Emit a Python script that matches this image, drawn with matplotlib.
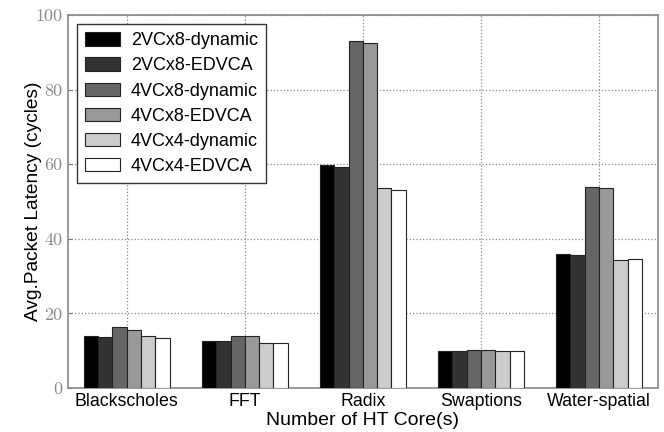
import matplotlib

matplotlib.use("Agg")
import matplotlib.pyplot as plt
import numpy as np

plt.rcParams["font.family"] = ["Liberation Sans", "DejaVu Sans"]

benchmarks = ["Blackscholes", "FFT", "Radix", "Swaptions", "Water-spatial"]
series_names = ["2VCx8-dynamic", "2VCx8-EDVCA", "4VCx8-dynamic",
                "4VCx8-EDVCA", "4VCx4-dynamic", "4VCx4-EDVCA"]
dyn_2x8 = [14.0, 12.5, 59.7, 10.0, 35.9]
edvca_2x8 = [13.7, 12.5, 59.3, 10.0, 35.7]
dyn_4x8 = [16.3, 13.8, 93.0, 10.2, 54.0]
edvca_4x8 = [15.5, 13.8, 92.5, 10.2, 53.5]
dyn_4x4 = [13.8, 12.1, 53.5, 9.9, 34.4]
edvca_4x4 = [13.5, 12.0, 53.2, 9.9, 34.5]
yticks = [0, 20, 40, 60, 80, 100]

series = [dyn_2x8, edvca_2x8, dyn_4x8, edvca_4x8, dyn_4x4, edvca_4x4]
colors = ["#000000", "#333333", "#666666", "#999999", "#cccccc", "#ffffff"]

fig = plt.figure(figsize=(6.64, 4.32), dpi=100)
ax = fig.add_axes([0.102, 0.102, 0.889, 0.863])

x = np.arange(len(benchmarks))
w = 0.121
for i, (vals, name, c) in enumerate(zip(series, series_names, colors)):
    ax.bar(x + (i - 2.5) * w, vals, w, color=c, edgecolor="#222222",
           linewidth=0.8, label=name, zorder=3)

ax.set_xlim(-0.5, 4.5)
ax.set_ylim(0, 100)
ax.set_xticks(x)
ax.set_xticklabels(benchmarks, fontsize=12.8)
ax.set_yticks(yticks)
ax.set_yticklabels([str(v) for v in yticks], family="cmr10", fontsize=13,
                   color="#8a8a8a")
ax.tick_params(axis="x", direction="in", length=3, pad=4, color="#777777")
ax.tick_params(axis="y", direction="in", length=3, pad=4, color="#777777")
ax.grid(True, ls=":", color="#888888", lw=0.9, zorder=0)
ax.set_xlabel("Number of HT Core(s)", fontsize=14, labelpad=1)
ax.set_ylabel("Avg.Packet Latency (cycles)", fontsize=13.8, labelpad=-5)
for s in ax.spines.values():
    s.set_color("#888888")
    s.set_linewidth(1.2)

leg = ax.legend(loc="upper left", fontsize=13, fancybox=False,
                handlelength=1.95, handleheight=0.75, labelspacing=0.45,
                borderpad=0.45, handletextpad=0.6, framealpha=1,
                bbox_to_anchor=(0.0, 1.0), borderaxespad=0.5)
leg.get_frame().set_edgecolor("#333333")
leg.get_frame().set_linewidth(1.0)

plt.savefig("out.png", dpi=100)
plt.close()
